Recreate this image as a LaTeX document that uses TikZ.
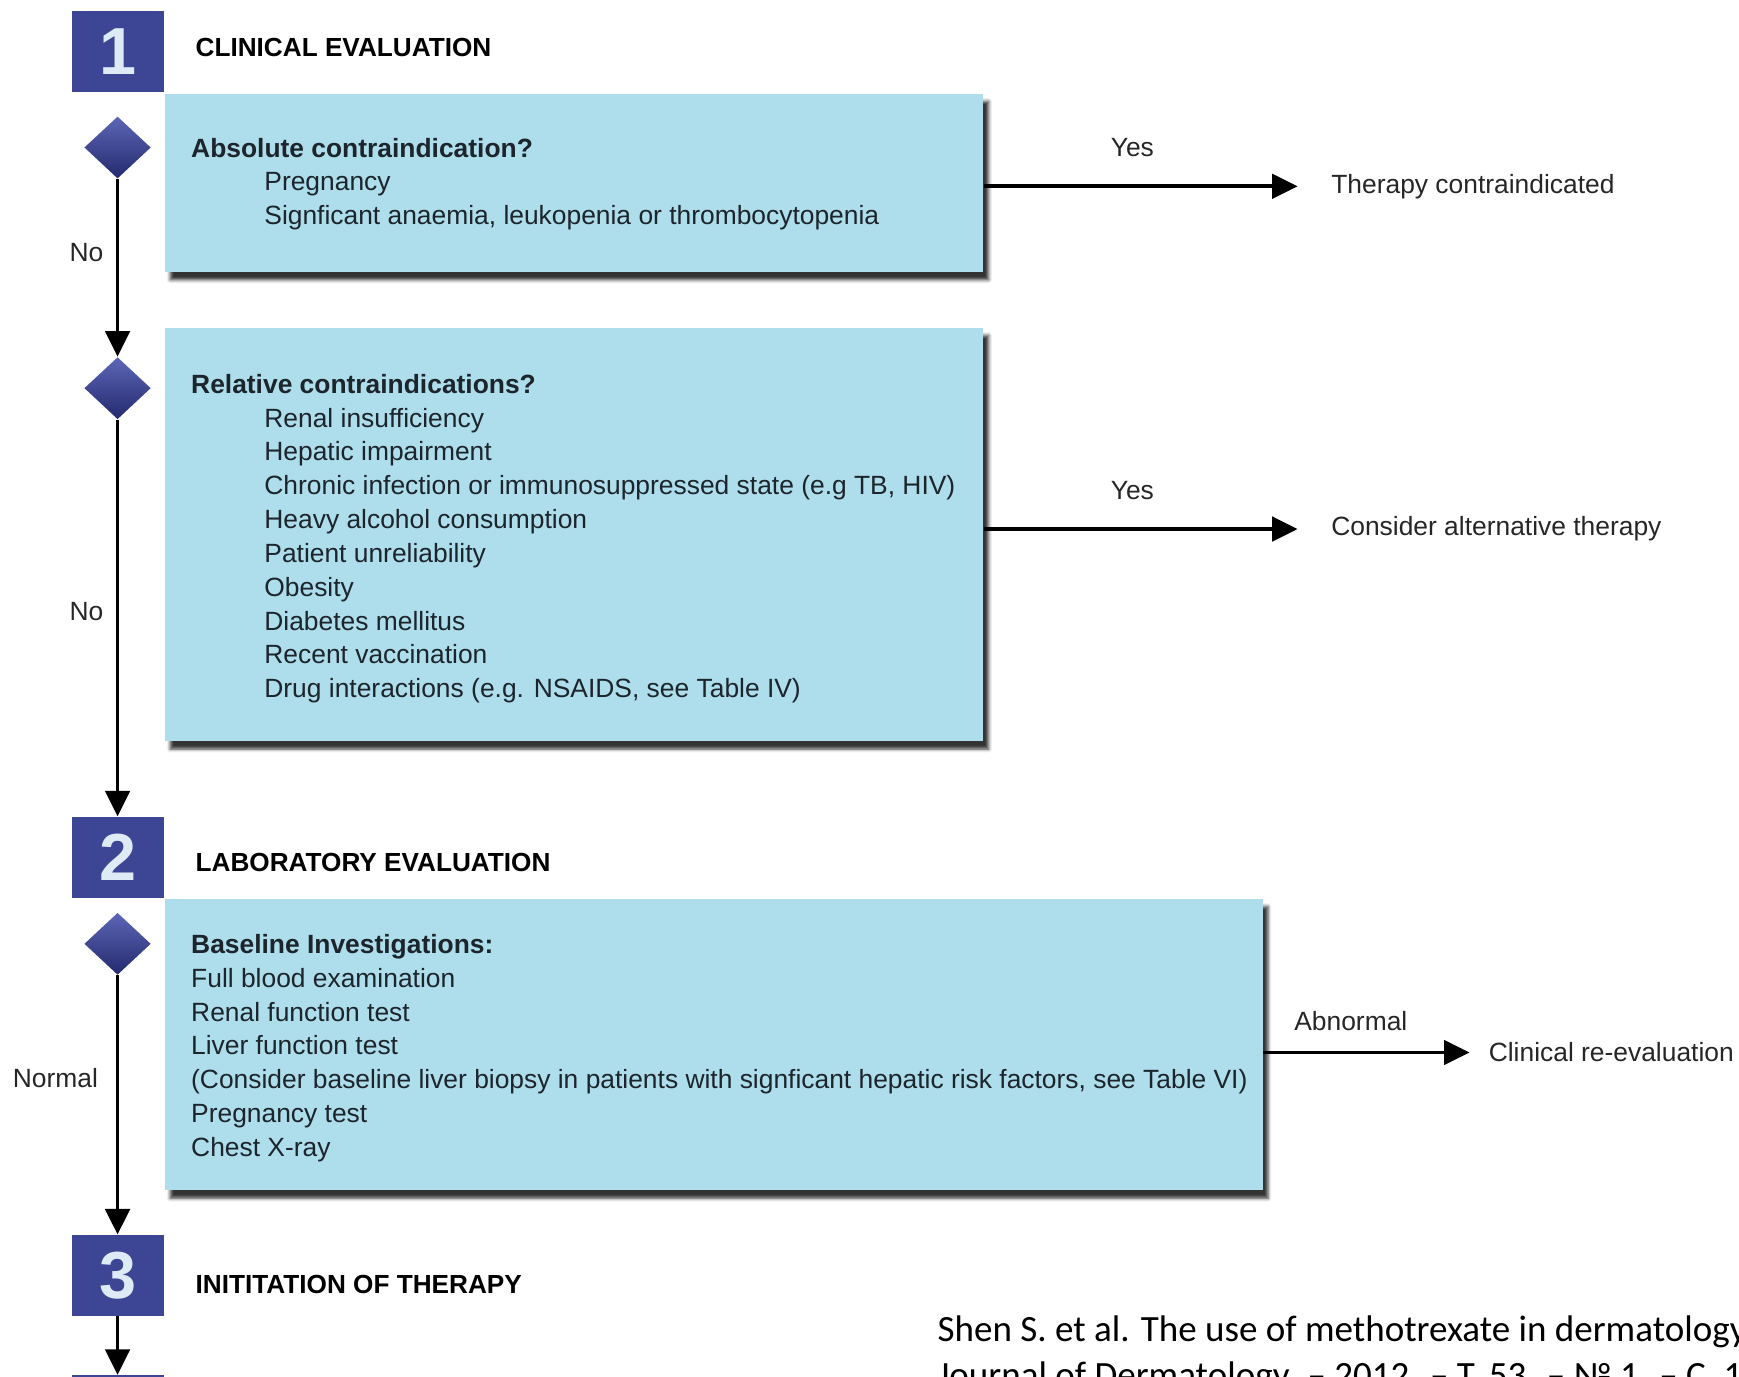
\documentclass[tikz,border=0pt]{standalone}
\usepackage{fontspec}
\setmainfont{Liberation Sans}
\newfontfamily\citefont{Carlito}
\usetikzlibrary{shapes.geometric,arrows.meta,shadows.blur}

\definecolor{stepblue}{RGB}{60,70,148}
\definecolor{digitwhite}{RGB}{222,234,246}
\definecolor{boxblue}{RGB}{174,221,235}
\definecolor{boxtext}{RGB}{28,36,44}
\definecolor{diatop}{RGB}{92,102,182}
\definecolor{diabot}{RGB}{36,42,110}
\definecolor{notegray}{RGB}{38,38,38}

\begin{document}
\begin{tikzpicture}[x=0.5pt,y=-0.5pt,
	stepno/.style={fill=stepblue, minimum width=41.5pt, minimum height=36.5pt, inner sep=0pt,
		text=digitwhite, font=\fontsize{30}{30}\selectfont\bfseries},
	steptitle/.style={anchor=west, inner sep=0pt, font=\fontsize{11.8}{14}\selectfont\bfseries},
	infobox/.style={fill=boxblue, anchor=north west, inner sep=0pt,
		blur shadow={shadow xshift=2.5pt, shadow yshift=-3.5pt, shadow blur radius=1.5pt, shadow opacity=80}},
	infotext/.style={anchor=north west, inner sep=0pt, align=left, text=boxtext,
		font=\fontsize{11.9}{15.25}\selectfont},
	query/.style={diamond, minimum width=30pt, minimum height=28pt, inner sep=0pt,
		top color=diatop, bottom color=diabot},
	note/.style={inner sep=0pt, text=notegray, font=\fontsize{11.9}{14}\selectfont},
	flow/.style={line width=1.7pt, -{Triangle[length=11.5pt,width=11pt]}}]
	
	\useasboundingbox (0,0) rectangle (1568,1241);
	\clip (0,0) rectangle (1568,1241);
	
	\def\ind{\hspace*{33pt}}
	
	% steps
	\node[stepno] (sq1) at (106,46.5) {1};
	\node[stepno] (sq2) at (106,773) {2};
	\node[stepno] (sq3) at (106,1150) {3};
	\node[stepno] (sq4) at (106,1276.5) {};
	
	\node[steptitle] (title1) at (176,43) {CLINICAL EVALUATION};
	\node[steptitle] (title2) at (176,778) {LABORATORY EVALUATION};
	\node[steptitle] (title3) at (176,1158) {INITITATION OF THERAPY};
	
	% boxes
	\node[infobox, minimum width=369pt, minimum height=80.5pt] (boxA) at (148,84) {};
	\node[infobox, minimum width=369pt, minimum height=186.5pt] (boxB) at (148,295) {};
	\node[infobox, minimum width=495pt, minimum height=131.5pt] (boxC) at (148,810) {};
	
	\node[infotext] (txtA) at (172,124) {\textbf{Absolute contraindication?}\\
		\ind Pregnancy\\
		\ind Signficant anaemia, leukopenia or thrombocytopenia};
	\node[infotext] (txtB) at (172,337) {\textbf{Relative contraindications?}\\
		\ind Renal insufficiency\\
		\ind Hepatic impairment\\
		\ind Chronic infection or immunosuppressed state (e.g TB, HIV)\\
		\ind Heavy alcohol consumption\\
		\ind Patient unreliability\\
		\ind Obesity\\
		\ind Diabetes mellitus\\
		\ind Recent vaccination\\
		\ind Drug interactions (e.g. NSAIDS, see Table IV)};
	\node[infotext] (txtC) at (172,842) {\textbf{Baseline Investigations:}\\
		Full blood examination\\
		Renal function test\\
		Liver function test\\
		(Consider baseline liver biopsy in patients with signficant hepatic risk factors, see Table VI)\\
		Pregnancy test\\
		Chest X-ray};
	
	% decisions
	\node[query] (q1) at (106,133) {};
	\node[query] (q2) at (106,350) {};
	\node[query] (q3) at (106,851) {};
	
	\draw[flow] (q1.south) -- (q2.north);
	\draw[flow] (q2.south) -- (sq2.north);
	\draw[flow] (q3.south) -- (sq3.north);
	\draw[flow] (sq3.south) -- (sq4.north);
	
	\node[note] (noA) at (78,228) {No};
	\node[note] (noB) at (78,551) {No};
	\node[note] (normC) at (50,972) {Normal};
	
	% outcomes
	\node[note, anchor=west] (stopA) at (1200,168) {Therapy contraindicated};
	\node[note, anchor=west] (altB) at (1200,477) {Consider alternative therapy};
	\node[note, anchor=west] (recheckC) at (1342,949) {Clinical re-evaluation};
	
	\node[note] (yesA) at (1021,133) {Yes};
	\node[note] (yesB) at (1021,442) {Yes};
	\node[note] (abnC) at (1218,921) {Abnormal};
	
	\draw[flow, shorten >=15pt] (boxA.east |- stopA.west) -- (stopA.west);
	\draw[flow, shorten >=15pt] (boxB.east |- altB.west) -- (altB.west);
	\draw[flow, shorten >=8.5pt] (boxC.east |- recheckC.west) -- (recheckC.west);
	
	% source
	\node[anchor=base west, inner sep=0pt, align=left, font=\citefont\fontsize{16.7}{20.5}\selectfont] (cite) at (845,1251)
		{Shen S. et al. The use of methotrexate in dermatology: a review // Australasian\\
		Journal of Dermatology. – 2012. – T. 53. – № 1. – C. 1–18.};
	
\end{tikzpicture}
\end{document}
